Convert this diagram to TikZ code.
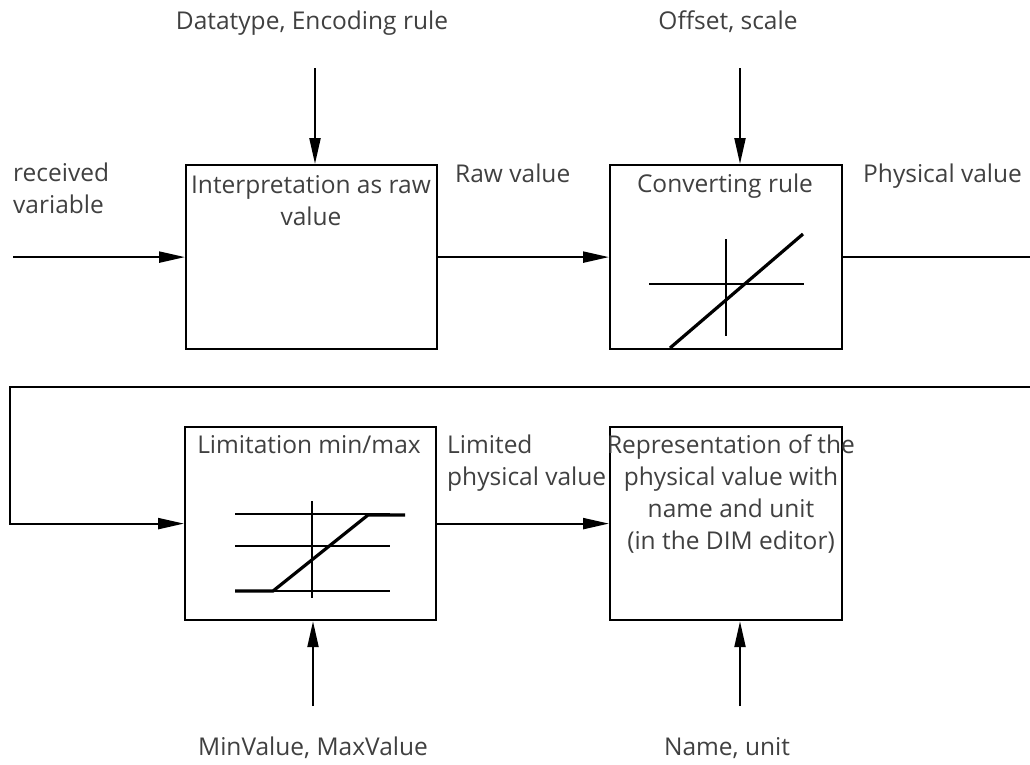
\documentclass[tikz,border=0pt]{standalone}
\usepackage{fontspec}
\setmainfont{Open Sans}
\usetikzlibrary{arrows.meta}
\begin{document}
\begin{tikzpicture}[x=1pt,y=-1pt,
  blk/.style={draw, line width=2.2pt, minimum width=251pt, minimum height=184pt, anchor=north west, inner sep=0pt},
  lbl/.style={font=\fontsize{24.5}{32}\selectfont, text=black!75, inner sep=0pt, align=center},
  arr/.style={line width=2.2pt, -{Triangle[length=26pt,width=11pt]}},
  axis/.style={line width=2pt},
  curve/.style={line width=3.2pt},
]
\clip (0,0) rectangle (1030,764);
\useasboundingbox (0,0) rectangle (1030,764);

% processing blocks
\node[blk] (interp) at (185,164) {};
\node[blk, minimum width=232pt] (conv) at (609,164) {};
\node[blk, minimum width=251pt, minimum height=193pt] (limit) at (184,426) {};
\node[blk, minimum width=232pt, minimum height=193pt] (repr) at (609,426) {};

% block titles (multi-line nodes are placed by the baseline of their last line)
\node[lbl, anchor=base] (tinterp) at (311,225) {Interpretation as raw\\value};
\node[lbl, anchor=base] (tconv) at (725,192) {Converting rule};
\node[lbl, anchor=base] (tlimit) at (309,453) {Limitation min/max};
\node[lbl, anchor=base] (trepr) at (731,549) {Representation of the\\physical value with\\name and unit\\(in the DIM editor)};

% free labels
\node[lbl, anchor=base] (ldt) at (312,29) {Datatype, Encoding rule};
\node[lbl, anchor=base] (loff) at (728,29) {Offset, scale};
\node[lbl, anchor=base west, align=left] (lrec) at (13,213) {received\\variable};
\node[lbl, anchor=base west] (lraw) at (455,182) {Raw value};
\node[lbl, anchor=base west] (lphys) at (863,182) {Physical value};
\node[lbl, anchor=base west, align=left] (llim) at (447,485) {Limited\\physical value};
\node[lbl, anchor=base] (lmin) at (313,755) {MinValue, MaxValue};
\node[lbl, anchor=base] (lname) at (727,755) {Name, unit};

% connector end points
\coordinate (in0) at (13,0);
\coordinate (dtTop) at (315,68);
\coordinate (offTop) at (740,68);
\coordinate (minBot) at (313,706);
\coordinate (nameBot) at (740,706);
\coordinate (wrapR) at (1031,0);
\coordinate (wrapL) at (10,387);

% signal flow
\draw[arr] (in0 |- interp.west) -- (interp.west);
\draw[arr] (dtTop) -- (dtTop |- interp.north);
\draw[arr] (interp.east) -- (conv.west);
\draw[arr] (offTop) -- (offTop |- conv.north);
\draw[arr] (conv.east) -- (wrapR |- conv.east) -- (wrapR |- wrapL) -- (wrapL) |- (limit.west);
\draw[arr] (limit.east) -- (repr.west);
\draw[arr] (minBot) -- (minBot |- limit.south);
\draw[arr] (nameBot) -- (nameBot |- repr.south);

% linear characteristic of the converting rule
\draw[axis] (649,284) -- (804,284);
\draw[axis] (726,239) -- (726,336);
\draw[curve] (670,348) -- (803,234);

% saturating characteristic of the limitation
\draw[axis] (235,514) -- (390,514);
\draw[axis] (235,546) -- (390,546);
\draw[axis] (235,591) -- (390,591);
\draw[axis] (312,501) -- (312,598);
\draw[curve] (235,591) -- (273,591) -- (368,515) -- (405,515);
\end{tikzpicture}
\end{document}
